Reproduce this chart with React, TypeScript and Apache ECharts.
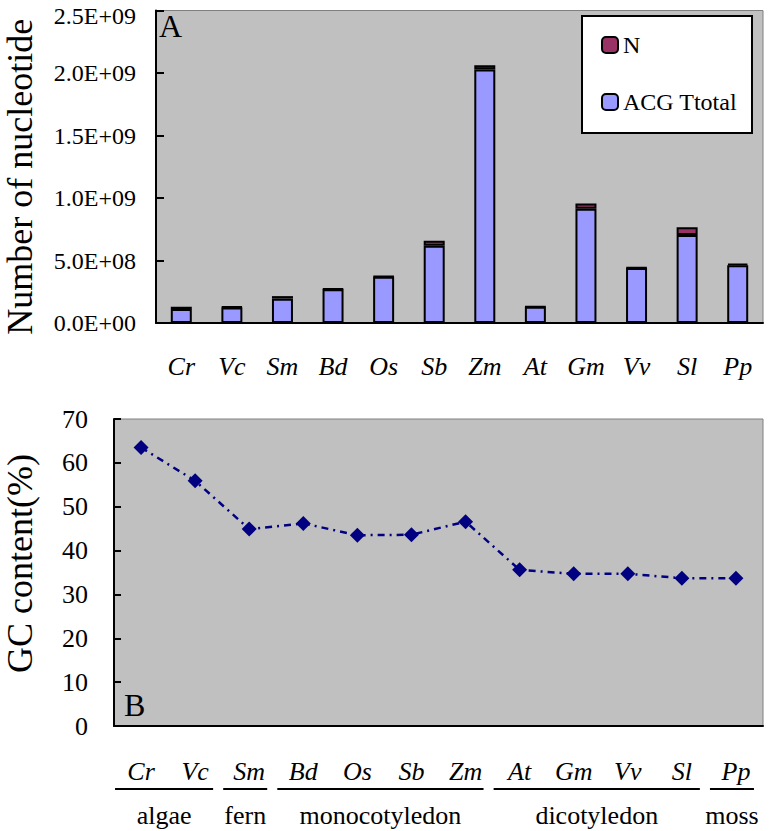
import React, { useEffect, useRef } from "react";
import * as echarts from "echarts";

const categories = ["Cr", "Vc", "Sm", "Bd", "Os", "Sb", "Zm", "At", "Gm", "Vv", "Sl", "Pp"];
const acgtTotal = [112e6, 125e6, 195e6, 270e6, 370e6, 618e6, 2028e6, 130e6, 915e6, 440e6, 705e6, 462e6];
const nCount = [18e6, 5e6, 20e6, 4e6, 3e6, 40e6, 35e6, 2e6, 42e6, 3e6, 62e6, 12e6];
const gcContent = [63.5, 55.9, 44.9, 46.2, 43.5, 43.6, 46.6, 35.6, 34.7, 34.7, 33.7, 33.7];
const groupNames = ["algae", "fern", "monocotyledon", "dicotyledon", "moss"];
const groupFirst = ["Cr", "Sm", "Bd", "At", "Pp"];
const groupLast = ["Vc", "Sm", "Zm", "Sl", "Pp"];

const FONT = "'Liberation Serif', 'Times New Roman', serif";
const Y_TOP_MAX = 2.5e9;

function sci(v: number): string {
  return v.toExponential(1).toUpperCase().replace(/E([+-])(\d)$/, "E$10$2");
}

export default function App() {
  const ref = useRef<HTMLDivElement>(null);
  useEffect(() => {
    if (!ref.current) return;
    const chart = echarts.init(ref.current, undefined, { renderer: "svg" });
    const axisLineStyle = { color: "#000", width: 2 };
    chart.setOption({
      animation: false,
      textStyle: { fontFamily: FONT },
      grid: [
        { left: 156, top: 10.5, width: 607, height: 312.5, show: true, backgroundColor: "#C0C0C0", borderColor: "#808080", borderWidth: 1, containLabel: false, outerBoundsMode: "none" },
        { left: 114, top: 419, width: 649, height: 307, show: true, backgroundColor: "#C0C0C0", borderColor: "#808080", borderWidth: 1, containLabel: false, outerBoundsMode: "none" },
      ],
      legend: {
        data: ["N", "ACG Ttotal"],
        orient: "vertical",
        left: 582,
        top: 16,
        padding: [17, 15, 19, 19],
        itemGap: 33,
        itemWidth: 16,
        itemHeight: 16,
        backgroundColor: "#fff",
        borderColor: "#000",
        borderWidth: 2,
        borderRadius: 0,
        textStyle: { fontFamily: FONT, fontSize: 24, color: "#000" },
      },
      xAxis: [
        {
          type: "category",
          gridIndex: 0,
          data: categories,
          axisLine: { lineStyle: axisLineStyle },
          axisTick: { inside: true, length: 8, lineStyle: { color: "#000", width: 2 } },
          axisLabel: { margin: 30, fontFamily: FONT, fontSize: 26, fontStyle: "italic", color: "#000" },
        },
        {
          type: "category",
          gridIndex: 1,
          data: categories,
          axisLine: { lineStyle: axisLineStyle },
          axisTick: { inside: true, length: 8, lineStyle: { color: "#000", width: 2 } },
          axisLabel: { margin: 32, fontFamily: FONT, fontSize: 26, fontStyle: "italic", color: "#000" },
        },
      ],
      yAxis: [
        {
          type: "value",
          gridIndex: 0,
          min: 0,
          max: Y_TOP_MAX,
          interval: 5e8,
          name: "Number of nucleotide",
          nameLocation: "middle",
          nameRotate: 90,
          nameGap: 118,
          nameTextStyle: { fontFamily: FONT, fontSize: 36, color: "#000", padding: [0, 20, 0, 0] },
          axisLine: { show: true, lineStyle: axisLineStyle },
          axisTick: { show: true, inside: true, length: 8, lineStyle: { color: "#000", width: 2 } },
          splitLine: { show: false },
          axisLabel: {
            margin: 20,
            fontFamily: FONT,
            fontSize: 24,
            color: "#000",
            formatter: (v: number) => (v === Y_TOP_MAX ? `{t|${sci(v)}}` : sci(v)),
            rich: { t: { fontFamily: FONT, fontSize: 24, color: "#000", padding: [10, 0, 0, 0] } },
          },
        },
        {
          type: "value",
          gridIndex: 1,
          min: 0,
          max: 70,
          interval: 10,
          name: "GC content(%)",
          nameLocation: "middle",
          nameRotate: 90,
          nameGap: 76,
          nameTextStyle: { fontFamily: FONT, fontSize: 36, color: "#000", padding: [0, 0, 0, 18] },
          axisLine: { show: true, lineStyle: axisLineStyle },
          axisTick: { show: true, inside: true, length: 7, lineStyle: { color: "#000", width: 2 } },
          splitLine: { show: false },
          axisLabel: { margin: 26, fontFamily: FONT, fontSize: 26, color: "#000" },
        },
      ],
      series: [
        {
          name: "ACG Ttotal",
          type: "bar",
          stack: "total",
          xAxisIndex: 0,
          yAxisIndex: 0,
          barWidth: 21,
          data: acgtTotal,
          itemStyle: { color: "#9999FF", borderColor: "#000", borderWidth: 2 },
        },
        {
          name: "N",
          type: "bar",
          stack: "total",
          xAxisIndex: 0,
          yAxisIndex: 0,
          barWidth: 21,
          data: nCount,
          itemStyle: { color: "#993366", borderColor: "#000", borderWidth: 2 },
        },
        {
          name: "GC",
          type: "line",
          xAxisIndex: 1,
          yAxisIndex: 1,
          data: gcContent,
          symbol: "diamond",
          symbolSize: 15,
          itemStyle: { color: "#000080" },
          lineStyle: { color: "#000080", width: 2.5, type: [7, 5, 2, 5] },
        },
      ],
    });

    const xOf = (c: string) => chart.convertToPixel({ xAxisIndex: 1 }, c) as unknown as number;
    const graphic: any[] = [
      { type: "text", left: 159, top: 10, style: { text: "A", fontFamily: FONT, fontSize: 32, fill: "#000" } },
      { type: "text", left: 124, top: 689, style: { text: "B", fontFamily: FONT, fontSize: 32, fill: "#000" } },
    ];
    groupNames.forEach((g, i) => {
      const x1 = xOf(groupFirst[i]) - 26;
      const x2 = xOf(groupLast[i]) + 18;
      graphic.push({ type: "line", shape: { x1, y1: 789, x2, y2: 789 }, style: { stroke: "#000", lineWidth: 2 } });
      graphic.push({
        type: "text",
        x: (x1 + x2) / 2,
        y: 815,
        style: { text: g, fontFamily: FONT, fontSize: 26, fill: "#000", align: "center", verticalAlign: "middle" },
      });
    });
    chart.setOption({ graphic });

    return () => chart.dispose();
  }, []);
  return <div ref={ref} style={{ position: "absolute", left: 0, top: 0, width: 769, height: 831 }} />;
}
